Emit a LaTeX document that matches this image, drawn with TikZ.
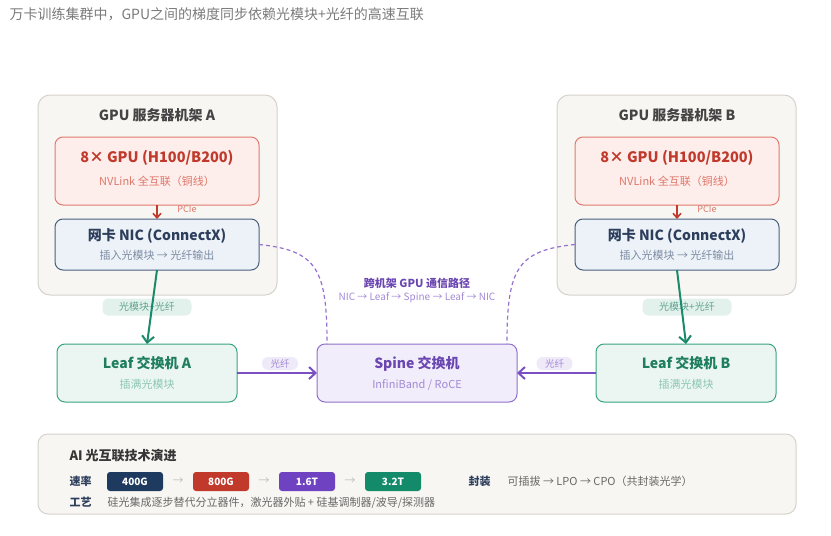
\documentclass[tikz,border=0pt]{standalone}
\usepackage{fontspec}
\setmainfont{Noto Sans CJK SC}
\usepackage{tikz}
\usetikzlibrary{
  positioning,
  arrows.meta,
  calc
}
\definecolor{rackfill}{HTML}{F8F6F2}
\definecolor{rackline}{HTML}{D6D2CC}
\definecolor{gpufill}{HTML}{FDEDEB}
\definecolor{gpuline}{HTML}{E07A6E}
\definecolor{gputext}{HTML}{C0392B}
\definecolor{gpusub}{HTML}{E0776A}
\definecolor{nicfill}{HTML}{EDF2F8}
\definecolor{nicline}{HTML}{4A5F7E}
\definecolor{nictext}{HTML}{2C3E5C}
\definecolor{nicsub}{HTML}{7D8CA3}
\definecolor{leaffill}{HTML}{EBF6F2}
\definecolor{leafline}{HTML}{3AA383}
\definecolor{leaftext}{HTML}{1E7E5E}
\definecolor{leafsub}{HTML}{8CC7B3}
\definecolor{spinefill}{HTML}{F2EDFB}
\definecolor{spineline}{HTML}{9070CC}
\definecolor{spinetext}{HTML}{6A46B0}
\definecolor{spinesub}{HTML}{A28AD6}
\definecolor{fibergreen}{HTML}{1A8A6A}
\definecolor{fiberpurple}{HTML}{7B4FC4}
\definecolor{pillgreen}{HTML}{E2F1EC}
\definecolor{pillpurple}{HTML}{EFEAF8}
\definecolor{greytext}{HTML}{7A7A7A}
\definecolor{darktext}{HTML}{444444}
\definecolor{c400}{HTML}{1F3A5F}
\definecolor{c800}{HTML}{C0392B}
\definecolor{c16}{HTML}{6F42C1}
\definecolor{c32}{HTML}{138A6A}
\tikzset{
  box/.style={
    rounded corners=8pt, line width=1pt,
    inner sep=0pt, outer sep=0pt
  },
  rackbox/.style={box, draw=rackline, fill=rackfill, rounded corners=12pt,
    minimum width=239pt, minimum height=200pt},
  gpubox/.style={box, draw=gpuline, fill=gpufill, minimum width=204pt, minimum height=68pt},
  nicbox/.style={box, draw=nicline, fill=nicfill, minimum width=204pt, minimum height=51pt},
  leafbox/.style={box, draw=leafline, fill=leaffill, minimum width=180pt, minimum height=58pt},
  spinebox/.style={box, draw=spineline, fill=spinefill, minimum width=200pt, minimum height=58pt},
  head/.style={font=\fontsize{14}{16}\selectfont\bfseries},
  sub/.style={font=\fontsize{11}{13}\selectfont},
  fiber/.style={-{Straight Barb[length=6.5pt,width=12pt,line width=2pt]}, line width=2pt},
  pill/.style={rounded corners=6pt, inner sep=0pt, font=\fontsize{9.5}{11}\selectfont}
}

\begin{document}
\begin{tikzpicture}[
  x=1pt, y=-1pt,
  rate/.style={rounded corners=3pt, minimum width=56pt, minimum height=19pt, inner sep=0pt,
    text=white, font=\fontsize{10}{12}\selectfont\bfseries},
  rowlbl/.style={anchor=west, text=nictext, font=\fontsize{11}{13}\selectfont\bfseries},
  rowtxt/.style={anchor=west, text=greytext!85!black, font=\fontsize{11}{13}\selectfont},
  path/.style={draw=fiberpurple!80, dash pattern=on 4pt off 3pt, line width=1.2pt},
]
\useasboundingbox (0,0) rectangle (831,536);

\node[anchor=west, text=greytext, font=\fontsize{14}{16}\selectfont] (caption) at (6,14)
  {万卡训练集群中，GPU之间的梯度同步依赖光模块+光纤的高速互联};

% racks
\node[rackbox] (rackA) at (157.5,195) {};
\node[rackbox] (rackB) at (676.5,195) {};
\node[head, text=darktext] (rackAt) at (157,115) {GPU 服务器机架 A};
\node[head, text=darktext] (rackBt) at (677,115) {GPU 服务器机架 B};

% GPU + NIC
\node[gpubox] (gpuA) at (157,171) {};
\node[head, text=gputext, font=\fontsize{14.5}{16}\selectfont\bfseries] at (157,158) {8× GPU (H100/B200)};
\node[sub, text=gpusub] at (157,181) {NVLink 全互联（铜线）};
\node[nicbox] (nicA) at (157,244.5) {};
\node[head, text=nictext] at (157,236) {网卡 NIC (ConnectX)};
\node[sub, text=nicsub] at (157,255) {插入光模块 → 光纤输出};

\node[gpubox] (gpuB) at (677,171) {};
\node[head, text=gputext, font=\fontsize{14.5}{16}\selectfont\bfseries] at (677,158) {8× GPU (H100/B200)};
\node[sub, text=gpusub] at (677,181) {NVLink 全互联（铜线）};
\node[nicbox] (nicB) at (677,244.5) {};
\node[head, text=nictext] at (677,236) {网卡 NIC (ConnectX)};
\node[sub, text=nicsub] at (677,255) {插入光模块 → 光纤输出};

\draw[-{Straight Barb[length=4.5pt,width=8pt,line width=1.6pt]}, gputext, line width=1.6pt] (gpuA) -- (nicA);
\draw[-{Straight Barb[length=4.5pt,width=8pt,line width=1.6pt]}, gputext, line width=1.6pt] (gpuB) -- (nicB);
\node[text=gpusub, font=\fontsize{9}{10}\selectfont] (pcieA) at (187,209.5) {PCIe};
\node[text=gpusub, font=\fontsize{9}{10}\selectfont] (pcieB) at (707,209.5) {PCIe};

% switches
\node[leafbox] (leafA) at (147,373) {};
\node[head, text=leaftext] at (147,363) {Leaf 交换机 A};
\node[sub, text=leafsub] at (147,384) {插满光模块};
\node[spinebox] (spine) at (417,373) {};
\node[head, text=spinetext] at (417,364) {Spine 交换机};
\node[sub, text=spinesub] at (417,385) {InfiniBand / RoCE};
\node[leafbox] (leafB) at (686,373) {};
\node[head, text=leaftext] at (686,363) {Leaf 交换机 B};
\node[sub, text=leafsub] at (686,384) {插满光模块};

% NIC -> Leaf
\node[pill, fill=pillgreen, text=leaftext!70, minimum width=89pt, minimum height=17pt,
  font=\fontsize{10}{12}\selectfont] (omA) at ($(leafA.north)+(0,-37)$) {光模块+光纤};
\node[pill, fill=pillgreen, text=leaftext!70, minimum width=89pt, minimum height=17pt,
  font=\fontsize{10}{12}\selectfont] (omB) at ($(leafB.north)+(1,-37)$) {光模块+光纤};
\draw[fiber, fibergreen] (nicA.south) -- (leafA.north);
\draw[fiber, fibergreen] (nicB.south) -- (leafB.north);

% Leaf -> Spine
\node[pill, fill=pillpurple, text=spinesub, minimum width=36pt, minimum height=13pt] (fbA) at (280,363.5) {光纤};
\node[pill, fill=pillpurple, text=spinesub, minimum width=36pt, minimum height=13pt] (fbB) at (554.5,363.5) {光纤};
\draw[fiber, fiberpurple] (leafA.east) -- (spine.west);
\draw[fiber, fiberpurple] (leafB.west) -- (spine.east);

% cross-rack path
\coordinate (spA) at ($(spine.north west)+(10,0)$);
\coordinate (spB) at ($(spine.north east)+(-10,0)$);
\draw[path] (nicA.east) .. controls ($(nicA.east)+(58,6)$) and ($(spA)+(0,-75)$) .. (spA);
\draw[path] (nicB.west) .. controls ($(nicB.west)+(-58,6)$) and ($(spB)+(0,-75)$) .. (spB);
\node[text=spinetext, font=\fontsize{11}{13}\selectfont\bfseries] (pathT) at (417,283) {跨机架 GPU 通信路径};
\node[text=spinesub, font=\fontsize{10}{12}\selectfont] (pathS) at (417,297.5) {NIC → Leaf → Spine → Leaf → NIC};

% technology panel
\node[box, draw=rackline, fill=rackfill, rounded corners=10pt, minimum width=758pt, minimum height=80pt] (panel) at (417,474) {};
\node[anchor=west, text=darktext!80!black, font=\fontsize{13}{15}\selectfont\bfseries] (panelT) at (66,456) {AI 光互联技术演进};
\node[rowlbl] (rateL) at (66,481.5) {速率};
\node[rate, fill=c400] (r1) at (135,481.5) {400G};
\node[rate, fill=c800] (r2) at (221,481.5) {800G};
\node[rate, fill=c16] (r3) at (307,481.5) {1.6T};
\node[rate, fill=c32] (r4) at (393,481.5) {3.2T};
\foreach \a/\b in {r1/r2, r2/r3, r3/r4}
  \node[text=black!25, font=\fontsize{11}{12}\selectfont] at ($(\a)!0.5!(\b)$) {→};
\node[rowlbl] (procL) at (66,502.5) {工艺};
\node[rowtxt] (procT) at (104,502.5) {硅光集成逐步替代分立器件，激光器外贴 + 硅基调制器/波导/探测器};
\node[rowlbl] (pkgL) at (465,481.5) {封装};
\node[rowtxt] (pkgT) at (504,481.5) {可插拔 → LPO → CPO（共封装光学）};

\end{tikzpicture}
\end{document}
